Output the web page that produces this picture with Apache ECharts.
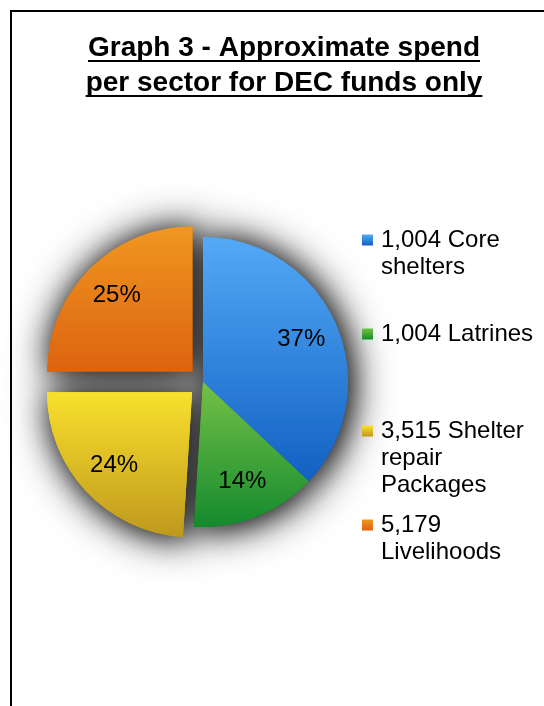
<!DOCTYPE html>
<html>
<head>
<meta charset="utf-8">
<script src="https://cdn.jsdelivr.net/npm/echarts@6/dist/echarts.min.js"></script>
<style>
  html, body { margin: 0; padding: 0; background: #fff; }
  #frame { position: absolute; left: 10px; top: 10px; width: 540px; height: 700px;
           border-left: 2px solid #000; border-top: 2px solid #000; }
  #chart { position: absolute; left: 0; top: 0; width: 544px; height: 706px; }
</style>
</head>
<body>
<div id="frame"></div>
<div id="chart"></div>
<script>
// ---- data ----
const titleLines = ['Graph 3 - Approximate spend', 'per sector for DEC funds only'];
const sectors = ['1,004 Core shelters', '1,004 Latrines', '3,515 Shelter repair Packages', '5,179 Livelihoods'];
const legendLabels = ['1,004 Core\nshelters', '1,004 Latrines', '3,515 Shelter\nrepair\nPackages', '5,179\nLivelihoods'];
const shares = [37, 14, 24, 25];           // percent of DEC spend
const exploded = [false, false, true, true];

// ---- styling ----
const FONT = '"Liberation Sans", Arial, sans-serif';
const topColors = ['#53aaf6', '#75c146', '#f9e12d', '#f09721'];
const bottomColors = ['#1160c3', '#148a2e', '#bf981d', '#dc6310'];
const legendIconCenters = [240, 334, 431, 525];
const LINE_H = 27;

const fills = shares.map((_, i) => new echarts.graphic.LinearGradient(0, 0, 0, 1, [
  { offset: 0, color: topColors[i] },
  { offset: 1, color: bottomColors[i] }
]));

function sliceData(styleFn) {
  return sectors.map((name, i) => ({
    name: name,
    value: shares[i],
    selected: exploded[i],
    itemStyle: styleFn(i)
  }));
}

const pieBase = {
  type: 'pie',
  center: [203, 382],
  radius: [0, 145],
  startAngle: 90,
  clockwise: true,
  selectedMode: 'multiple',
  selectedOffset: 15,
  avoidLabelOverlap: false,
  label: { show: false },
  labelLine: { show: false },
  emphasis: { disabled: true },
  silent: true,
  animation: false
};

// soft dark halo drawn under the slices, built from stacked layers
function shadowSeries(name, z, blur, color) {
  return Object.assign({}, pieBase, {
    name: name, z: z,
    data: sliceData(i => ({
      color: fills[i], borderWidth: 0,
      shadowBlur: blur, shadowColor: color, shadowOffsetX: 3, shadowOffsetY: 2
    }))
  });
}

// text widths for the underlined heading
const measureCtx = document.createElement('canvas').getContext('2d');
const TITLE_FONT = 'bold 28px ' + FONT;
measureCtx.font = TITLE_FONT;

const titleGraphics = [];
titleLines.forEach((t, i) => {
  const w = measureCtx.measureText(t).width;
  const y = 48 + i * 35;
  titleGraphics.push({
    type: 'text', x: 284, y: y,
    style: { text: t, font: TITLE_FONT, fill: '#000', align: 'center', verticalAlign: 'middle' }
  });
  titleGraphics.push({
    type: 'rect',
    shape: { x: 284 - w / 2, y: y + 12, width: w, height: 2 },
    style: { fill: '#000' }
  });
});

// one legend per entry so that each icon sits beside the first text line
const legends = sectors.map((name, i) => {
  const lines = legendLabels[i].split('\n').length;
  // blank lines above keep the first line centred on the icon
  const padded = '\n'.repeat(lines - 1) + legendLabels[i];
  return {
    data: [name],
    orient: 'vertical',
    left: 362,
    top: legendIconCenters[i] - (2 * lines - 1) * LINE_H / 2,
    padding: 0,
    icon: 'rect',
    itemWidth: 11,
    itemHeight: 11,
    selectedMode: false,
    formatter: () => padded,
    textStyle: {
      fontFamily: FONT, fontSize: 24, lineHeight: LINE_H, color: '#000',
      padding: [0, 0, 0, 3]
    }
  };
});

const chart = echarts.init(document.getElementById('chart'), null, { renderer: 'canvas' });
chart.setOption({
  animation: false,
  graphic: titleGraphics,
  legend: legends,
  series: [
    // coloured slices
    Object.assign({}, pieBase, {
      name: 'spend',
      z: 6,
      data: sliceData(i => ({ color: fills[i], borderWidth: 0 }))
    }),
    shadowSeries('halo-wide', 2, 44, 'rgba(0,0,0,0.95)'),
    shadowSeries('halo-mid', 3, 26, 'rgba(0,0,0,0.55)'),
    // percentage labels
    Object.assign({}, pieBase, {
      name: 'labels',
      z: 7,
      radius: [63, 145],
      label: {
        show: true, position: 'inside', formatter: '{c}%',
        fontFamily: FONT, fontSize: 24, color: '#000'
      },
      data: sliceData(() => ({ color: 'rgba(0,0,0,0)', borderWidth: 0 }))
    })
  ]
});
</script>
</body>
</html>
